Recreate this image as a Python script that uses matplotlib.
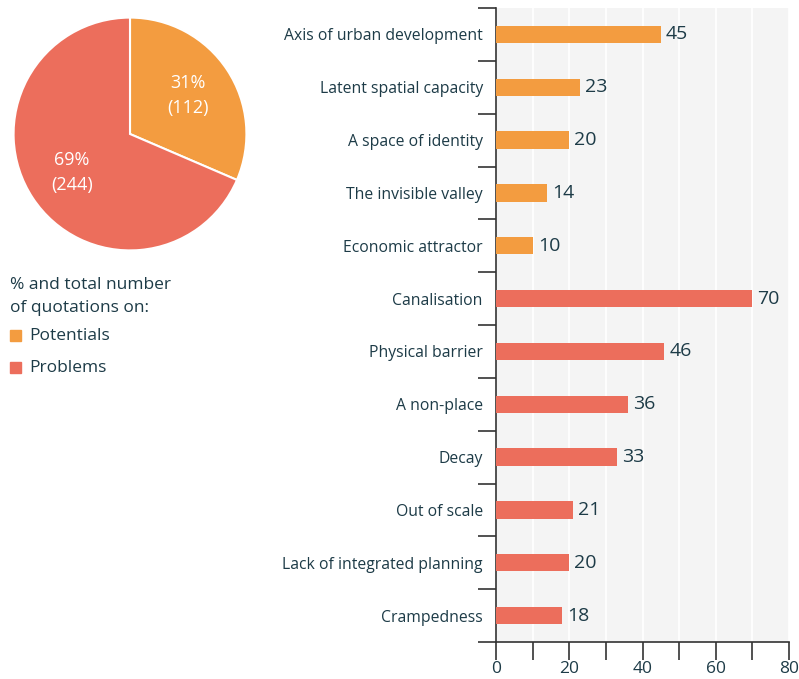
import matplotlib.pyplot as plt
from matplotlib.patches import Rectangle

plt.rcParams['font.family'] = ['Open Sans', 'DejaVu Sans']

text_col = '#1d3b47'
orange = '#f39c40'
red = '#ec6e5c'

categories = ['Axis of urban development', 'Latent spatial capacity', 'A space of identity',
              'The invisible valley', 'Economic attractor', 'Canalisation', 'Physical barrier',
              'A non-place', 'Decay', 'Out of scale', 'Lack of integrated planning', 'Crampedness']
counts = [45, 23, 20, 14, 10, 70, 46, 36, 33, 21, 20, 18]
groups = ['Potentials'] * 5 + ['Problems'] * 7

group_names = ['Potentials', 'Problems']
group_totals = [112, 244]
group_colors = {'Potentials': orange, 'Problems': red}

fig = plt.figure(figsize=(7.99, 6.79), dpi=100)

# pie of totals, drawn clockwise from 12 o'clock
pax = fig.add_axes([13 / 799, 1 - 251 / 679, 234 / 799, 234 / 679])
tot = sum(group_totals)
wedges, _, autotexts = pax.pie(
    group_totals, colors=[group_colors[g] for g in group_names], startangle=90,
    counterclock=False, pctdistance=0.6,
    autopct=lambda p: f'{p:.0f}%\n({round(p * tot / 100)})',
    wedgeprops=dict(edgecolor='white', linewidth=1.5),
    textprops=dict(color='white', fontsize=13, linespacing=1.5))
pax.set_xlim(-1.005, 1.005)
pax.set_ylim(-1.005, 1.005)
pax.set_aspect('equal')

# legend block under the pie
fig.text(10 / 799, 1 - 289 / 679, '% and total number', fontsize=12.5, color=text_col, va='baseline')
fig.text(10 / 799, 1 - 312 / 679, 'of quotations on:', fontsize=12.5, color=text_col, va='baseline')
for i, g in enumerate(group_names):
    y = 341 + i * 32
    fig.patches.append(Rectangle((10 / 799, 1 - y / 679), 11 / 799, 11 / 679,
                                 transform=fig.transFigure, color=group_colors[g]))
    fig.text(29 / 799, 1 - (y - 4.5) / 679, g, fontsize=12.5, color=text_col, va='center')

# horizontal bars
ax = fig.add_axes([496 / 799, 37 / 679, 293 / 799, 634 / 679])
ax.set_facecolor('#f4f4f4')
ypos = list(range(len(categories)))
ax.barh(ypos, counts, height=0.33, color=[group_colors[g] for g in groups], zorder=3)
for y, v in zip(ypos, counts):
    ax.text(v + 1.4, y, str(v), va='center', ha='left', fontsize=14, color=text_col)

ax.set_xlim(0, 80)
ax.set_ylim(len(categories) - 0.5, -0.5)
ax.set_xticks(range(0, 81, 10))
ax.set_xticklabels([str(t) if t % 20 == 0 else '' for t in range(0, 81, 10)])
ax.grid(axis='x', color='white', linewidth=1.2, zorder=1)
ax.set_axisbelow(True)

ax.set_yticks([y - 0.5 for y in range(len(categories) + 1)])
ax.set_yticklabels([])
ax.set_yticks(ypos, minor=True)
ax.set_yticklabels(categories, minor=True)
ax.tick_params(axis='y', which='minor', length=0, pad=9.5, labelsize=11.3, labelcolor=text_col)
ax.tick_params(axis='y', which='major', length=13, width=1.2, color='#333333')
ax.tick_params(axis='x', length=13, width=1.2, color='#333333', labelsize=12.5,
               labelcolor=text_col, pad=1)

for s in ['top', 'right']:
    ax.spines[s].set_visible(False)
for s in ['left', 'bottom']:
    ax.spines[s].set_color('#333333')
    ax.spines[s].set_linewidth(1.2)

fig.savefig('out.png', dpi=100)
